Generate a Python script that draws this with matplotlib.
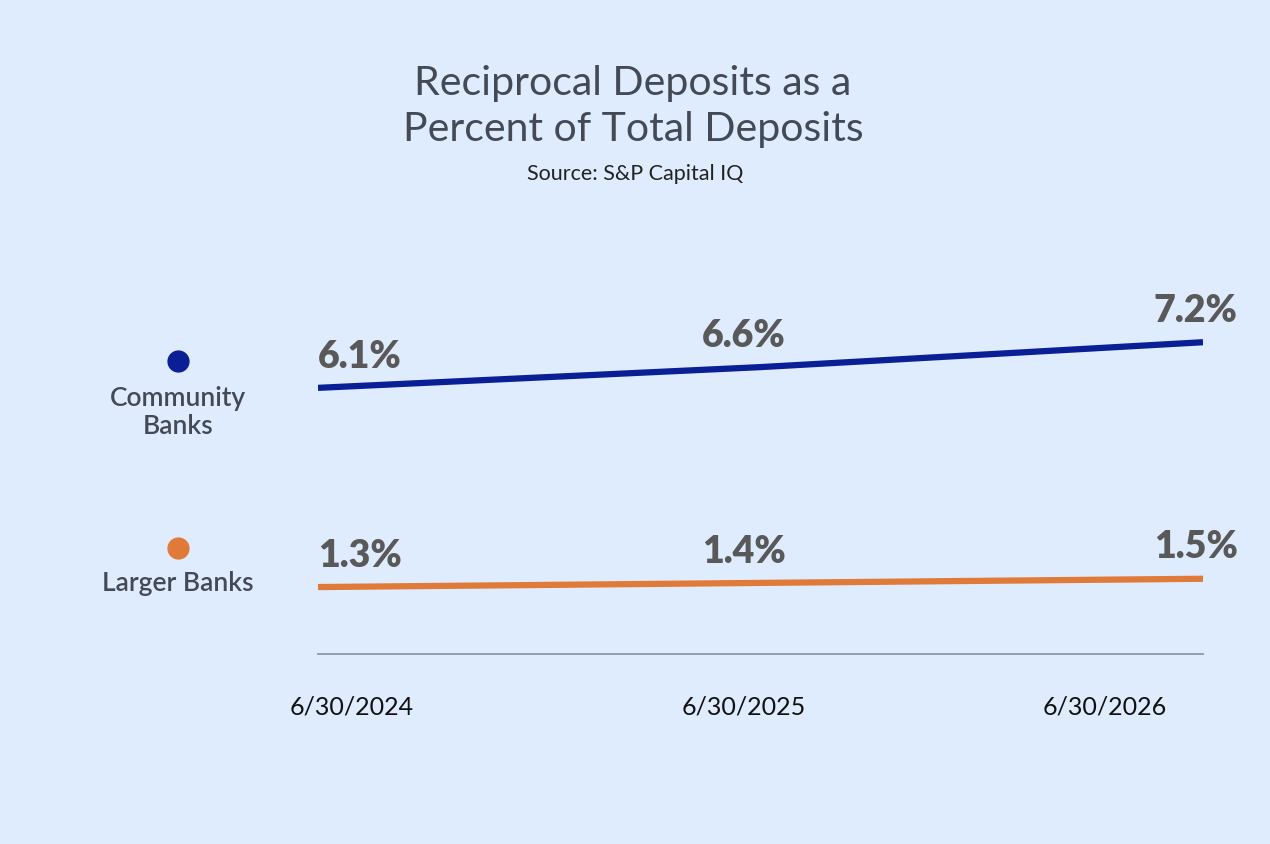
import matplotlib.pyplot as plt
from matplotlib.lines import Line2D

# Dados
datas = ['6/30/2024', '6/30/2025', '6/30/2026']
community = [6.1, 6.6, 7.2]
larger = [1.3, 1.4, 1.5]
series_names = ['Community\nBanks', 'Larger Banks']

bg = '#dfecfd'
navy = '#0a1e96'
orange = '#e07a38'
txt = '#444a55'
val_col = '#595959'

plt.rcParams['font.family'] = ['Lato', 'DejaVu Sans']

fig = plt.figure(figsize=(12.7, 8.45), dpi=100)
fig.patch.set_facecolor(bg)
ax = fig.add_axes([318 / 1270, 190 / 845, 885 / 1270, 405 / 845])
ax.set_facecolor(bg)

x = list(range(len(datas)))
ax.plot(x, community, color=navy, lw=4.5, solid_capstyle='butt')
ax.plot(x, larger, color=orange, lw=4.5, solid_capstyle='butt')
ax.set_xlim(0, 2)
ax.set_ylim(-0.313, 9.446)

# rótulos dos valores
offs = [(0, 11, 'left'), (-12, 11, 'center'), (25, 11, 'right')]
for serie in (community, larger):
    for i, v in enumerate(serie):
        dx, dy, ha = offs[i]
        ax.annotate(f'{v:.1f}%', (x[i], v), xytext=(dx, dy), textcoords='offset points',
                    ha=ha, va='bottom', fontsize=27, fontweight='heavy', color=val_col)

# eixos
for s in ['top', 'right', 'left']:
    ax.spines[s].set_visible(False)
ax.spines['bottom'].set_color('#8f98a8')
ax.spines['bottom'].set_linewidth(1.3)
ax.set_yticks([])
ax.set_xticks([0.077, 0.963, 1.778])
ax.set_xticklabels(datas, fontsize=18, color='#111111')
ax.tick_params(axis='x', length=0, pad=29)

# título
fig.text(633 / 1270, 1 - 106 / 845, 'Reciprocal Deposits as a\nPercent of Total Deposits',
         ha='center', va='center', fontsize=29.5, color=txt, linespacing=1.3)
fig.text(635 / 1270, 1 - 174 / 845, 'Source: S&P Capital IQ', ha='center', va='center',
         fontsize=15.5, color='#222222')

# legenda lateral
fig.add_artist(Line2D([178 / 1270], [1 - 362 / 845], marker='o', markersize=15,
                      color=navy, transform=fig.transFigure))
fig.add_artist(Line2D([178 / 1270], [1 - 549 / 845], marker='o', markersize=15,
                      color=orange, transform=fig.transFigure))
fig.text(178 / 1270, 1 - 413 / 845, series_names[0], ha='center', va='center',
         fontsize=19, color=txt, fontweight='semibold', linespacing=1.15)
fig.text(178 / 1270, 1 - 584 / 845, series_names[1], ha='center', va='center',
         fontsize=19, color=txt, fontweight='semibold')

plt.savefig('out.png', dpi=100, facecolor=bg)
